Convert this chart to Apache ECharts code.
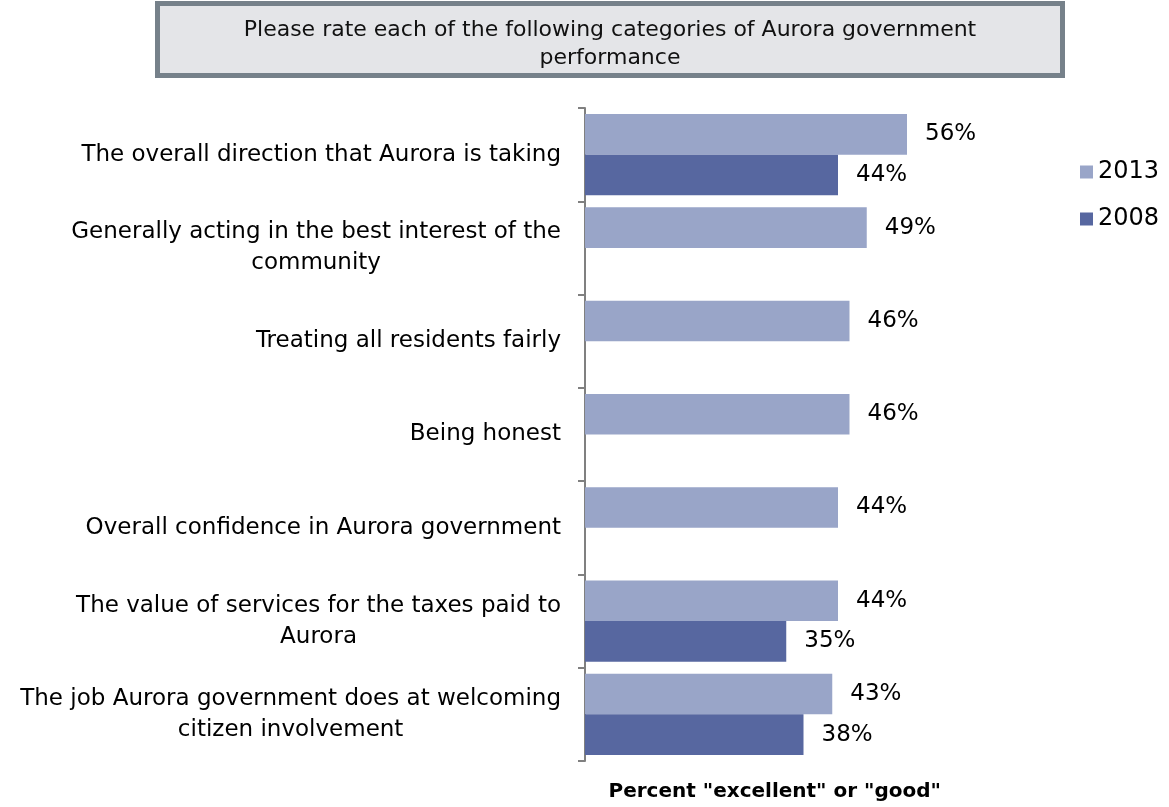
<!DOCTYPE html>
<html><head><meta charset="utf-8">
<script src="https://cdn.jsdelivr.net/npm/echarts@6/dist/echarts.min.js"></script>
<style>html,body{margin:0;padding:0;background:#fff}#c{width:1169px;height:807px}</style>
</head><body><div id="c"></div>
<script>
const categories = [
  'The overall direction that Aurora is taking',
  'Generally acting in the best interest of the\ncommunity',
  'Treating all residents fairly',
  'Being honest',
  'Overall confidence in Aurora government',
  'The value of services for the taxes paid to\nAurora',
  'The job Aurora government does at welcoming\ncitizen involvement'
];
const values2013 = [56, 49, 46, 46, 44, 44, 43];
const values2008 = [44, null, null, null, null, 35, 38];
const seriesNames = ['2013', '2008'];
const titleText = 'Please rate each of the following categories of Aurora government\nperformance';
const axisName = 'Percent "excellent" or "good"';

const FONT = 'DejaVu Sans';
const chart = echarts.init(document.getElementById('c'));
chart.setOption({
  animation: false,
  color: ['#99A5C8', '#5767A0'],
  graphic: [
    { type: 'rect', shape: { x: 157.5, y: 3.5, width: 905, height: 72 },
      style: { fill: '#E4E5E8', stroke: '#76818A', lineWidth: 5 } },
    { type: 'text', x: 610, y: 44, style: { text: titleText, font: '22px "DejaVu Sans"', fill: '#111',
      align: 'center', verticalAlign: 'middle', lineHeight: 28 } }
  ],
  legend: {
    data: seriesNames, orient: 'vertical', left: 1075, top: 155, icon: 'rect',
    itemWidth: 13, itemHeight: 13, itemGap: 23,
    textStyle: { fontFamily: FONT, fontSize: 24, color: '#000' }
  },
  grid: { left: 585, top: 108, bottom: 46, right: 204.5, containLabel: false, outerBoundsMode: 'none' },
  xAxis: {
    type: 'value', min: 0, max: 66,
    axisLine: { show: false }, axisTick: { show: false }, axisLabel: { show: false }, splitLine: { show: false },
    name: axisName, nameLocation: 'middle', nameGap: 21,
    nameTextStyle: { fontFamily: FONT, fontWeight: 'bold', fontSize: 20, color: '#000' }
  },
  yAxis: {
    type: 'category', data: categories, inverse: true,
    axisLine: { lineStyle: { color: '#808080', width: 2 } },
    axisTick: { show: true, length: 7, lineStyle: { color: '#808080', width: 2 } },
    axisLabel: {
      margin: 24, align: 'right',
      formatter: v => v.split('\n').map(s => '{c|' + s + '}').join('\n'),
      rich: { c: { fontFamily: FONT, fontSize: 23, color: '#000', align: 'center', lineHeight: 31 } }
    }
  },
  series: [
    { name: seriesNames[0], type: 'bar', data: values2013, barGap: '0%', barCategoryGap: '13%',
      label: { show: true, position: 'right', distance: 18, formatter: '{c}%', fontFamily: FONT, fontSize: 23, color: '#000' } },
    { name: seriesNames[1], type: 'bar', data: values2008, barGap: '0%', barCategoryGap: '13%',
      label: { show: true, position: 'right', distance: 18, formatter: '{c}%', fontFamily: FONT, fontSize: 23, color: '#000' } }
  ]
});
</script></body></html>
